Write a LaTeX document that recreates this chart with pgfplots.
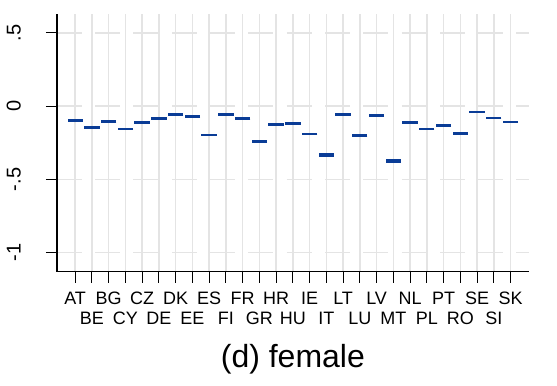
\documentclass[border=0pt]{standalone}
\usepackage{pgfplots}
\pgfplotsset{compat=1.18}
\usepackage{fontspec}
\setmainfont{Liberation Sans}
\definecolor{stblue}{RGB}{10,60,150}
\definecolor{gridgray}{RGB}{228,228,228}
\newcommand{\ra}{\rule{0pt}{21.5pt}}
\begin{document}
\begin{tikzpicture}
\draw[white] (0pt,0pt) rectangle (557pt,385pt);
\begin{axis}[
  at={(56.7pt,113.3pt)}, anchor=south west,
  scale only axis, width=472.3pt, height=257.7pt,
  xmin=-1.092, xmax=27.09, ymin=-1.130, ymax=0.6276,
  axis x line=bottom, axis y line=left,
  axis line style={-, draw=black, line width=1.3pt},
  xtick={0,...,26},
  xticklabels={\ra AT,{\ra\\BE},\ra BG,{\ra\\CY},\ra CZ,{\ra\\DE},\ra DK,{\ra\\EE},\ra ES,{\ra\\FI},\ra FR,{\ra\\GR},\ra HR,{\ra\\HU},\ra IE,{\ra\\IT},\ra LT,{\ra\\LU},\ra LV,{\ra\\MT},\ra NL,{\ra\\PL},\ra PT,{\ra\\RO},\ra SE,{\ra\\SI},\ra SK},
  ytick={-1,-0.5,0,0.5},
  yticklabels={-1,-.5,0,.5},
  tick align=outside, major tick length=11pt,
  major tick style={draw=black, line width=1.1pt},
  xmajorgrids, ymajorgrids,
  x grid style={draw=gridgray, line width=1.5pt},
  y grid style={draw=gridgray, line width=1.3pt, dash pattern=on 25pt off 13.33pt},
  x tick label style={font=\fontsize{18}{20}\selectfont, align=center, inner sep=0pt, anchor=north},
  y tick label style={font=\fontsize{20}{22}\selectfont, rotate=90, anchor=south, inner sep=0pt, text depth=25pt},
  clip=false,
]
\addplot[only marks, mark=-, mark size=7.65pt, mark options={line width=2.7pt, color=stblue}] coordinates {
(0,-0.096) (1,-0.146) (2,-0.107) (3,-0.157) (4,-0.114) (5,-0.082) (6,-0.055) (7,-0.073)
(8,-0.196) (9,-0.055) (10,-0.084) (11,-0.243) (12,-0.126) (13,-0.118) (14,-0.191)
(16,-0.059) (17,-0.202) (18,-0.066) (20,-0.114) (21,-0.157) (22,-0.134) (23,-0.186)
(24,-0.039) (25,-0.080) (26,-0.109)
};
\addplot[only marks, mark=-, mark size=7.65pt, mark options={line width=3.8pt, color=stblue}] coordinates {(15,-0.332)};
\addplot[only marks, mark=-, mark size=7.65pt, mark options={line width=4.3pt, color=stblue}] coordinates {(19,-0.373)};
\end{axis}
\node[anchor=base, font=\fontsize{32}{36}\selectfont] at (292.9pt,17.3pt) {(d) female};
\end{tikzpicture}
\end{document}
